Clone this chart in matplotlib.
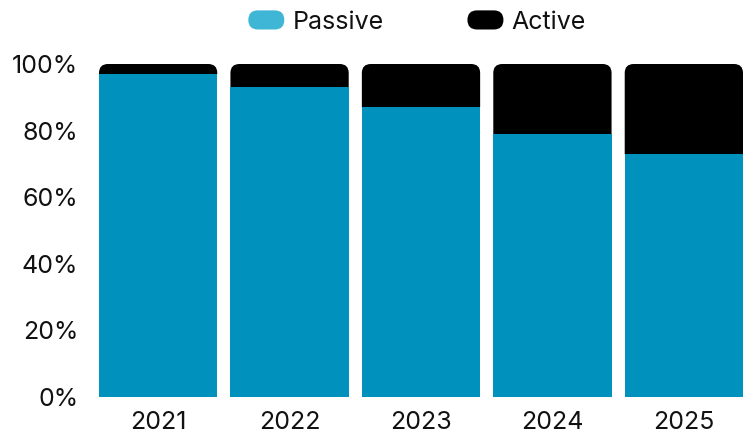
import numpy as np
import matplotlib
matplotlib.use("Agg")
import matplotlib.pyplot as plt
from matplotlib.patches import FancyBboxPatch, Rectangle
from matplotlib.legend_handler import HandlerPatch

years = ["2021", "2022", "2023", "2024", "2025"]
passive = [0.97, 0.93, 0.87, 0.79, 0.73]
active = [0.03, 0.07, 0.13, 0.21, 0.27]

BLUE = "#0091bc"
BLUE_LEGEND = "#3fb6d6"
BLACK = "#000000"
TEXT = "#111111"
FS = 18

plt.rcParams["font.family"] = ["Inter", "DejaVu Sans"]

W, H = 752, 436
fig = plt.figure(figsize=(W / 100, H / 100), dpi=100)
ax = fig.add_axes([99 / W, 1 - 397 / H, (743 - 99) / W, (397 - 64) / H])

x = np.arange(len(years))
width = 0.9
ax.set_xlim(-0.45, len(years) - 0.55)
ax.set_ylim(0, 1)

ax.bar(x, passive, width, color=BLUE, zorder=3, label="Passive")

# active stacked on top of passive; the visible bar gets rounded top corners
act_bars = ax.bar(x, active, width, bottom=passive, color=BLACK, label="Active")
ax_w = (743 - 99)
ax_h = (397 - 64)
px_x = ax_w / (ax.get_xlim()[1] - ax.get_xlim()[0])
px_y = ax_h / (ax.get_ylim()[1] - ax.get_ylim()[0])
r_px = 9
for b in act_bars:
    b.set_visible(False)
    top = b.get_y() + b.get_height()
    y0 = b.get_y() - 0.05
    rounded = FancyBboxPatch((b.get_x(), y0), b.get_width(), top - y0,
                             boxstyle=f"round,pad=0,rounding_size={r_px / px_x}",
                             mutation_aspect=px_x / px_y,
                             facecolor=BLACK, edgecolor="none", zorder=2)
    ax.add_patch(rounded)
    clip = Rectangle((b.get_x() - 0.1, b.get_y()), b.get_width() + 0.2, b.get_height() + 0.1,
                     transform=ax.transData)
    rounded.set_clip_path(clip)

ax.set_xticks(x, years)
ax.set_yticks(np.linspace(0, 1, 6), [f"{int(v)}%" for v in np.linspace(0, 100, 6)])
ax.tick_params(length=0, labelsize=FS, colors=TEXT)
ax.tick_params(axis="y", pad=15)
ax.tick_params(axis="x", pad=10)
for s in ax.spines.values():
    s.set_visible(False)


def pill(legend, orig_handle, xdescent, ydescent, width, height, fontsize):
    return FancyBboxPatch((-xdescent, -ydescent), width, height,
                          boxstyle=f"round,pad=0,rounding_size={height / 2}")


handles = [
    Rectangle((0, 0), 1, 1, facecolor=BLUE_LEGEND, edgecolor="none"),
    Rectangle((0, 0), 1, 1, facecolor=BLACK, edgecolor="none"),
]
fig.legend(handles, ["Passive", "Active"], loc="center", bbox_to_anchor=(417 / W, 1 - 22 / H),
           ncol=2, frameon=False, fontsize=FS, handlelength=1.44, handleheight=0.8,
           handletextpad=0.32, columnspacing=3.36, labelcolor=TEXT,
           handler_map={Rectangle: HandlerPatch(patch_func=pill)})

fig.savefig("out.png", dpi=100)
